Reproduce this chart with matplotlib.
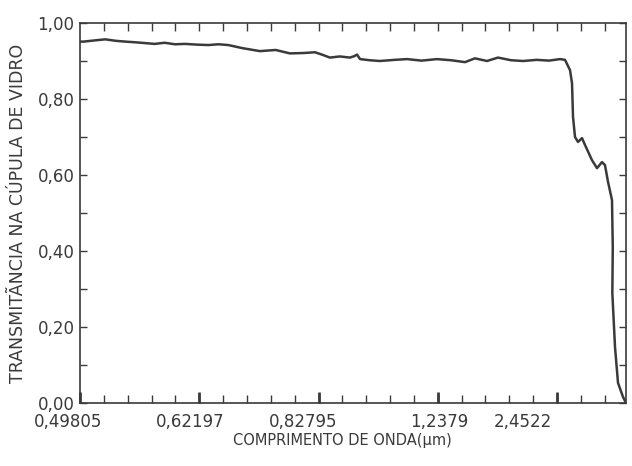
import matplotlib
matplotlib.use("Agg")
import matplotlib.pyplot as plt
import matplotlib.transforms as mtransforms
import numpy as np

# wavelength (um) and transmittance
wavelength = [0.498, 0.501, 0.510, 0.520, 0.530, 0.539, 0.550, 0.569, 0.580,
              0.592, 0.604, 0.620, 0.634, 0.648, 0.662, 0.683, 0.712, 0.740,
              0.767, 0.795, 0.820, 0.838, 0.855, 0.880, 0.907, 0.920, 0.927,
              0.936, 0.965, 0.998, 1.05, 1.098, 1.16, 1.234, 1.31, 1.396,
              1.464, 1.556, 1.651, 1.78, 1.916, 2.10, 2.30, 2.514, 2.625,
              2.746, 2.797, 2.824, 2.878, 2.964, 3.087, 3.186, 3.443, 3.654,
              3.893, 4.051, 4.224, 4.477, 4.53, 4.50, 4.689, 4.921, 5.363,
              5.669]
transmit = [0.951, 0.951, 0.954, 0.957, 0.953, 0.951, 0.949, 0.945, 0.948,
            0.944, 0.945, 0.943, 0.942, 0.944, 0.942, 0.934, 0.926, 0.929,
            0.920, 0.921, 0.923, 0.916, 0.909, 0.912, 0.909, 0.913, 0.917,
            0.905, 0.902, 0.900, 0.903, 0.905, 0.901, 0.905, 0.902, 0.897,
            0.907, 0.900, 0.909, 0.902, 0.900, 0.903, 0.901, 0.905, 0.903,
            0.876, 0.842, 0.753, 0.700, 0.687, 0.697, 0.679, 0.639, 0.618,
            0.634, 0.626, 0.582, 0.534, 0.410, 0.289, 0.147, 0.053, 0.016,
            0.0]

tick_wl = [0.49805, 0.62197, 0.82795, 1.2379, 2.4522]
tick_txt = ["0,49805", "0,62197", "0,82795", "1,2379", "2,4522"]
label_shift = [-12, -9, -15, 1, -34]  # pixel offsets of the hand-lettered labels
y_ticks = [0.0, 0.2, 0.4, 0.6, 0.8, 1.0]
y_txt = ["0,00", "0,20", "0,40", "0,60", "0,80", "1,00"]

ink = "#3a3a3a"


def main():
    fig = plt.figure(figsize=(6.32, 4.66), dpi=100)
    ax = fig.add_axes([80 / 632, 63 / 466, 546 / 632, 380 / 466])

    # plot against wavenumber (1/um), the axis is linear in it
    nu = 1.0 / np.array(wavelength)
    ax.plot(nu, transmit, color=ink, lw=1.8)

    ax.set_xlim(1 / 0.49805, 1 / 5.669)
    ax.set_ylim(0, 1)

    for s in ax.spines.values():
        s.set_color(ink)
        s.set_linewidth(1.2)

    nu_major = [1 / w for w in tick_wl]
    step = (nu_major[0] - nu_major[1]) / 5
    nu_minor = np.arange(nu_major[0], 1 / 5.669, -step)[1:]

    ax.xaxis.remove_overlapping_locs = False
    ax.set_xticks(nu_major)
    ax.set_xticklabels([])
    ax.set_xticks(nu_minor, minor=True)
    ax.tick_params(axis="x", which="major", direction="in", length=8, width=2,
                   color=ink, top=False)
    ax.tick_params(axis="x", which="minor", direction="in", length=6, width=1,
                   color=ink, top=True)

    ax.set_yticks(y_ticks)
    ax.set_yticklabels(y_txt)
    ax.set_yticks(np.arange(0.1, 1.0, 0.2), minor=True)
    ax.tick_params(axis="y", which="both", direction="in", length=5, width=1,
                   color=ink, right=True, labelsize=12, labelcolor=ink, pad=4)

    for x, t, dx in zip(nu_major, tick_txt, label_shift):
        tr = mtransforms.offset_copy(ax.get_xaxis_transform(), fig=fig,
                                     x=dx, y=-10, units="dots")
        ax.text(x, 0, t, transform=tr, ha="center", va="top", fontsize=12,
                color=ink)

    ax.set_xlabel("COMPRIMENTO DE ONDA(\u00b5m)", fontsize=10.5, color=ink)
    ax.xaxis.set_label_coords(0.48, -0.078)
    ax.set_ylabel("TRANSMIT\u00c3NCIA NA C\u00daPULA DE VIDRO", fontsize=12.5,
                  color=ink)
    ax.yaxis.set_label_coords(-0.097, 0.5)

    fig.savefig("out.png", dpi=100)


if __name__ == '__main__':
    main()
